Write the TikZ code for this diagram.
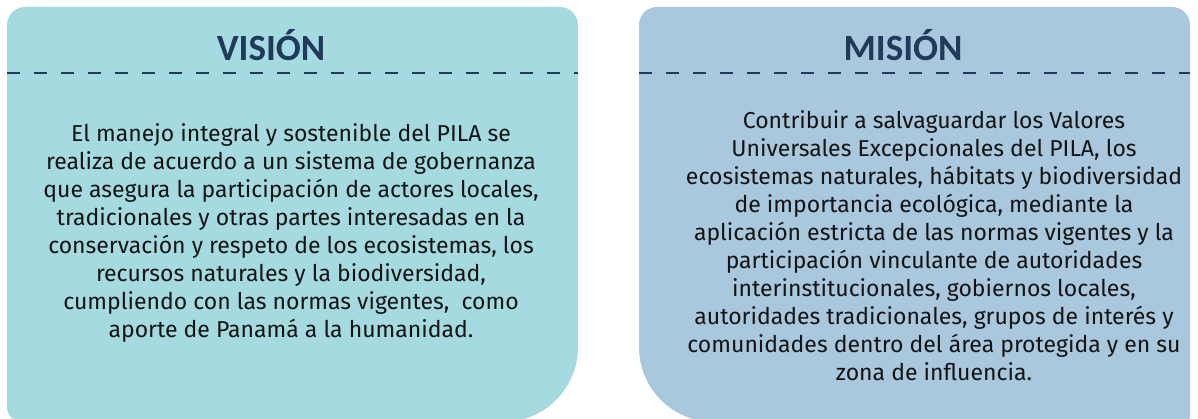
\documentclass[tikz,border=0pt]{standalone}
\usepackage{fontspec}
\setmainfont{Fira Sans}
\newfontfamily\titlefont{Carlito}
\usepackage{xcolor}
\usetikzlibrary{positioning}

\definecolor{visionfill}{HTML}{A5DBE0}
\definecolor{misionfill}{HTML}{A9C7DD}
\definecolor{navy}{HTML}{1F3A5A}
\definecolor{bodytext}{HTML}{141414}

\begin{document}
\begin{tikzpicture}[
    x=1pt, y=1pt,
    titlebox/.style={
        font=\titlefont\bfseries\fontsize{37}{42}\selectfont,
        text=navy,
        inner sep=0pt
    },
    bodybox/.style={
        font=\fontsize{23}{28}\selectfont,
        text=bodytext,
        align=center,
        inner sep=0pt
    },
    divider/.style={
        draw=navy,
        line width=1.3pt,
        dash pattern=on 13pt off 14pt
    }
]
    \useasboundingbox (0,0) rectangle (1198,419);

    % Vision panel
    \fill[visionfill] (7,12) -- (7,394) arc(180:90:18) -- (560,412) arc(90:0:18)
        -- (578,72) arc(0:-90:75) -- (22,-3) arc(270:180:15) -- cycle;
    \node[titlebox] (vtitle) at (271,374) {VISIÓN};
    \draw[divider] (7,346) -- (578,346);
    \node[bodybox] (vtext) at (291,186) {
        El manejo integral y sostenible del PILA se\\
        realiza de acuerdo a un sistema de gobernanza\\
        que asegura la participación de actores locales,\\
        tradicionales y otras partes interesadas en la\\
        conservación y respeto de los ecosistemas, los\\
        recursos naturales y la biodiversidad,\\
        cumpliendo con las normas vigentes,~ como\\
        aporte de Panamá a la humanidad.
    };

    % Mision panel
    \fill[misionfill] (639,72) -- (639,394) arc(180:90:18) -- (1172,412) arc(90:0:18)
        -- (1190,2) arc(0:-90:5) -- (714,-3) arc(270:180:75) -- cycle;
    \node[titlebox] (mtitle) at (903,374) {MISIÓN};
    \draw[divider] (639,346) -- (1190,346);
    \node[bodybox] (mtext) at (934,173) {
        Contribuir a salvaguardar los Valores\\
        Universales Excepcionales del PILA, los\\
        ecosistemas naturales, hábitats y biodiversidad\\
        de importancia ecológica, mediante la\\
        aplicación estricta de las normas vigentes y la\\
        participación vinculante de autoridades\\
        interinstitucionales, gobiernos locales,\\
        autoridades tradicionales, grupos de interés y\\
        comunidades dentro del área protegida y en su\\
        zona de influencia.
    };
\end{tikzpicture}
\end{document}
